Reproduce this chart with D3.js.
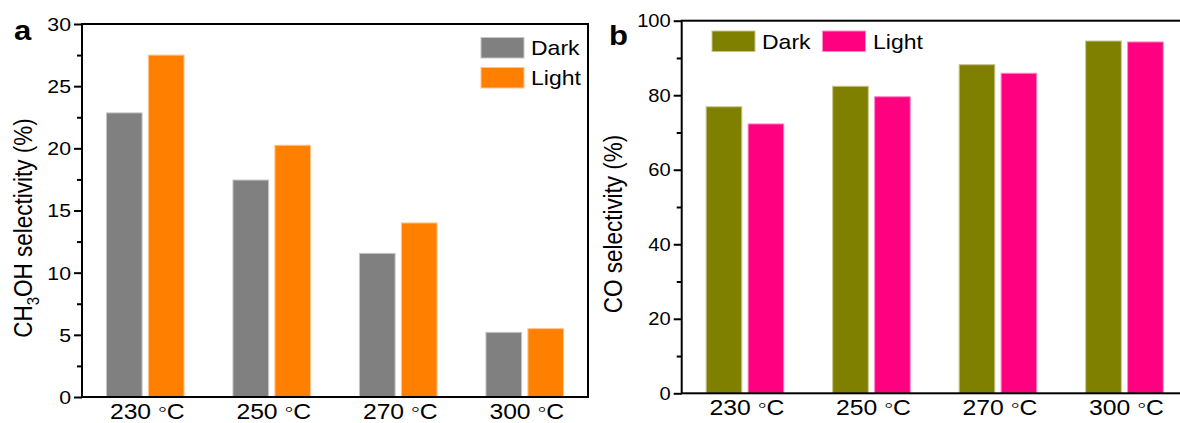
<!DOCTYPE html>
<html>
<head>
<meta charset="utf-8">
<script src="https://cdn.jsdelivr.net/npm/d3@7"></script>
<style>
  html, body { margin: 0; padding: 0; background: #fff; }
  svg { display: block; font-family: "Liberation Sans", Arial, sans-serif; }
</style>
</head>
<body>
<svg id="chart" width="1180" height="423"></svg>
<script>
// Reaction temperatures (x categories)
const temperatures = ["230 \u25E6C", "250 \u25E6C", "270 \u25E6C", "300 \u25E6C"];
const seriesNames = ["Dark", "Light"];

// Panel a: CH3OH selectivity (%)
const methanolDark  = [22.85, 17.45, 11.55, 5.2];
const methanolLight = [27.5, 20.25, 14.0, 5.5];
const methanolTicks = [0, 5, 10, 15, 20, 25, 30];

// Panel b: CO selectivity (%)
const coDark  = [76.9, 82.4, 88.2, 94.55];
const coLight = [72.3, 79.6, 85.9, 94.3];
const coTicks = [0, 20, 40, 60, 80, 100];

const svg = d3.select("#chart");
const SX = 1.15; // horizontal text stretch

function label(g, x, y, text, opts = {}) {
  const t = g.append("text")
    .attr("transform", `translate(${x},${y}) scale(${SX},1)`)
    .attr("font-size", opts.size || 18)
    .attr("text-anchor", opts.anchor || "start")
    .attr("fill", "#000");
  if (opts.bold) t.attr("font-weight", "bold");
  if (opts.baseline) t.attr("dominant-baseline", opts.baseline);
  t.text(text);
  return t;
}

// category label with the degree ring raised to mid x-height
function tempLabel(g, x, y, text) {
  const [num, unit] = text.split("\u25E6");
  const t = g.append("text")
    .attr("transform", `translate(${x},${y}) scale(${SX},1)`)
    .attr("font-size", 21.5).attr("text-anchor", "middle").attr("fill", "#000");
  t.append("tspan").text(num);
  t.append("tspan").attr("dy", -3).text("\u25E6");
  t.append("tspan").attr("dy", 3).text(unit);
}

function panel(cfg) {
  const g = svg.append("g");
  const { left, right, top, bottom } = cfg.frame;

  const x = d3.scaleBand().domain(temperatures).range([left, right]);
  const half = 39.3;
  const inner = d3.scaleBand().domain(seriesNames)
    .range([x.bandwidth() / 2 - half, x.bandwidth() / 2 + half])
    .paddingInner(0.126);
  const y = d3.scaleLinear().domain(cfg.domain).range([bottom, top]);

  const rows = temperatures.map((t, i) => ({
    t, values: [
      { s: "Dark", v: cfg.dark[i] },
      { s: "Light", v: cfg.light[i] }
    ]
  }));

  // bars
  const groups = g.selectAll("g.grp").data(rows).join("g")
    .attr("transform", d => `translate(${x(d.t)},0)`);
  groups.selectAll("rect").data(d => d.values).join("rect")
    .attr("x", d => inner(d.s) + 0.5)
    .attr("width", inner.bandwidth() - 1)
    .attr("y", d => y(d.v))
    .attr("height", d => y(0) - y(d.v))
    .attr("fill", d => cfg.colors[d.s])
    .attr("stroke", d => d3.interpolateRgb(cfg.colors[d.s], "#fff")(0.55))
    .attr("stroke-width", 1);

  // frame
  g.append("rect")
    .attr("x", left).attr("y", top)
    .attr("width", right - left).attr("height", bottom - top)
    .attr("fill", "none").attr("stroke", "#000").attr("stroke-width", 2);

  // y axis ticks (outward), major and minor
  const majors = cfg.ticks;
  const step = majors[1] - majors[0];
  const minors = majors.slice(0, -1).map(v => v + step / 2);
  const yAxis = d3.axisLeft(y).tickValues(majors).tickSize(8).tickPadding(4)
    .tickFormat(d3.format("d"));
  const ya = g.append("g").attr("transform", `translate(${left},0)`).call(yAxis);
  ya.select(".domain").remove();
  ya.selectAll(".tick line").attr("stroke", "#000").attr("stroke-width", 2);
  ya.selectAll(".tick text").remove();
  ya.selectAll(".tick").each(function(d) {
    label(d3.select(this), -11, 0, d3.format("d")(d),
      { size: cfg.tickSize, anchor: "end", baseline: "central" });
  });
  const ym = g.append("g").attr("transform", `translate(${left},0)`)
    .call(d3.axisLeft(y).tickValues(minors).tickSize(5).tickFormat(""));
  ym.select(".domain").remove();
  ym.selectAll(".tick line").attr("stroke", "#000").attr("stroke-width", 2);

  // x category labels
  temperatures.forEach(t => {
    tempLabel(g, x(t) + x.bandwidth() / 2 + 2, bottom + 22, t);
  });

  // y title (rotated)
  const title = g.append("text")
    .attr("transform", `translate(${cfg.titleX},${cfg.titleY}) rotate(-90) scale(1,${SX})`)
    .attr("font-size", 22.5).attr("text-anchor", "middle").attr("fill", "#000");
  cfg.title(title);

  // panel letter
  label(g, cfg.letter.x, cfg.letter.y, cfg.letter.text, { size: 27, bold: true });

  // legend
  cfg.legend.forEach(l => {
    g.append("rect").attr("x", l.x).attr("y", l.y).attr("width", 43).attr("height", 20.5)
      .attr("fill", cfg.colors[l.s])
      .attr("stroke", d3.interpolateRgb(cfg.colors[l.s], "#fff")(0.55)).attr("stroke-width", 1);
    label(g, l.tx, l.ty, l.s, { size: 20 });
  });
}

panel({
  frame: { left: 82, right: 588, top: 24, bottom: 397 },
  domain: [0, 30],
  ticks: methanolTicks,
  tickSize: 18.5,
  dark: methanolDark, light: methanolLight,
  colors: { Dark: "#808080", Light: "#ff8000" },
  titleX: 32, titleY: 228,
  title: t => {
    t.append("tspan").text("CH");
    t.append("tspan").attr("font-size", 15).attr("dy", 6).text("3");
    t.append("tspan").attr("dy", -6).text("OH selectivity (%)");
  },
  letter: { x: 14, y: 40, text: "a" },
  legend: [
    { s: "Dark", x: 481, y: 37.5, tx: 531, ty: 55 },
    { s: "Light", x: 481, y: 67.5, tx: 531, ty: 85 }
  ]
});

panel({
  frame: { left: 681.7, right: 1187.7, top: 20.7, bottom: 393.3 },
  domain: [0, 100],
  ticks: coTicks,
  tickSize: 17.5,
  dark: coDark, light: coLight,
  colors: { Dark: "#808000", Light: "#ff0080" },
  titleX: 622, titleY: 224,
  title: t => t.text("CO selectivity (%)"),
  letter: { x: 609, y: 45, text: "b" },
  legend: [
    { s: "Dark", x: 712, y: 31, tx: 762, ty: 48.5 },
    { s: "Light", x: 822.5, y: 31, tx: 873, ty: 48.5 }
  ]
});
</script>
</body>
</html>
